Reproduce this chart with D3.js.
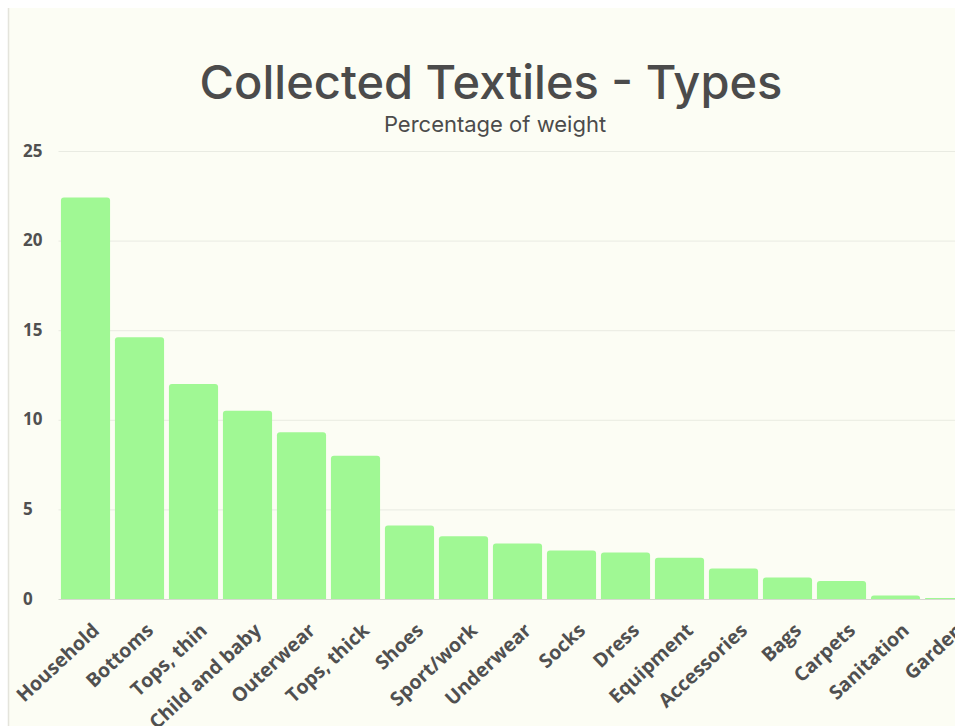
<!DOCTYPE html>
<html>
<head>
<meta charset="utf-8">
<script src="https://cdn.jsdelivr.net/npm/d3@7/dist/d3.min.js"></script>
<style>
  html, body { margin: 0; padding: 0; background: #ffffff; overflow: hidden; }
  svg { display: block; }
</style>
</head>
<body>
<svg id="chart" width="955" height="726"></svg>
<script>
// Share of collected textile weight by type (%)
const categories = ["Household", "Bottoms", "Tops, thin", "Child and baby", "Outerwear",
  "Tops, thick", "Shoes", "Sport/work", "Underwear", "Socks", "Dress", "Equipment",
  "Accessories", "Bags", "Carpets", "Sanitation", "Garden"];
const values = [22.4, 14.6, 12.0, 10.5, 9.3, 8.0, 4.1, 3.5, 3.1, 2.7, 2.6, 2.3, 1.7, 1.2, 1.0, 0.2, 0.05];
const yTicks = [0, 5, 10, 15, 20, 25];
const titleText = "Collected Textiles - Types";
const subtitleText = "Percentage of weight";

const svg = d3.select("#chart");
const W = 955, H = 726;

// card
svg.append("rect").attr("x", 8).attr("y", 8).attr("width", W).attr("height", H)
  .attr("fill", "#fcfdf4");
svg.append("line").attr("x1", 8.5).attr("x2", 8.5).attr("y1", 8).attr("y2", H)
  .attr("stroke", "#e4e4dc").attr("stroke-width", 1.5);

const plot = { left: 58.5, top: 151, bottom: 599 };
const step = 54;
const x = d3.scaleBand().domain(categories)
  .range([plot.left, plot.left + step * categories.length])
  .paddingInner(0.09).paddingOuter(0.045);
const y = d3.scaleLinear().domain([0, 25]).range([plot.bottom, plot.top]);

// gridlines and value ticks
const yAxis = d3.axisLeft(y).tickValues(yTicks).tickSize(-(W - plot.left)).tickPadding(14);
const gy = svg.append("g").attr("transform", `translate(${plot.left},0)`).call(yAxis);
gy.select(".domain").remove();
gy.selectAll(".tick line").attr("stroke", "#e9ebe2").attr("stroke-width", 1);
gy.selectAll(".tick text")
  .attr("fill", "#505050")
  .style("font-family", "'Open Sans', sans-serif")
  .style("font-weight", "700")
  .style("font-size", "17px")
  .attr("text-anchor", "start")
  .attr("x", 23 - plot.left)
  .attr("dy", "0.3em");
gy.selectAll(".tick").filter(d => d === 0).select("line").attr("stroke", "#d5d8cf");

// bars
svg.append("g").selectAll("path").data(values).join("path")
  .attr("fill", "#a0f894")
  .attr("d", (d, i) => {
    const x0 = x(categories[i]), w = x.bandwidth();
    const y0 = y(d), y1 = y(0);
    const r = Math.min(3, (y1 - y0));
    return `M${x0},${y1}V${y0 + r}Q${x0},${y0} ${x0 + r},${y0}H${x0 + w - r}Q${x0 + w},${y0} ${x0 + w},${y0 + r}V${y1}Z`;
  });

// category labels
const xAxis = d3.axisBottom(x).tickSize(0).tickPadding(0);
const gx = svg.append("g").attr("transform", `translate(0,${plot.bottom})`).call(xAxis);
gx.select(".domain").remove();
gx.selectAll(".tick text")
  .attr("fill", "#505050")
  .style("font-family", "'Open Sans', sans-serif")
  .style("font-weight", "700")
  .style("font-size", "19.5px")
  .attr("text-anchor", "end")
  .attr("dy", "0")
  .attr("y", 0)
  .attr("transform", "translate(15,33) rotate(-43)");

// titles
svg.append("text").attr("x", 491).attr("y", 99)
  .attr("text-anchor", "middle")
  .attr("fill", "#4b4b4b")
  .style("font-family", "Inter, sans-serif")
  .style("font-weight", "500")
  .style("font-size", "47px")
  .text(titleText);
svg.append("text").attr("x", 495).attr("y", 132)
  .attr("text-anchor", "middle")
  .attr("fill", "#4b4b4b")
  .style("font-family", "Inter, sans-serif")
  .style("font-weight", "400")
  .style("font-size", "22px")
  .text(subtitleText);
</script>
</body>
</html>
